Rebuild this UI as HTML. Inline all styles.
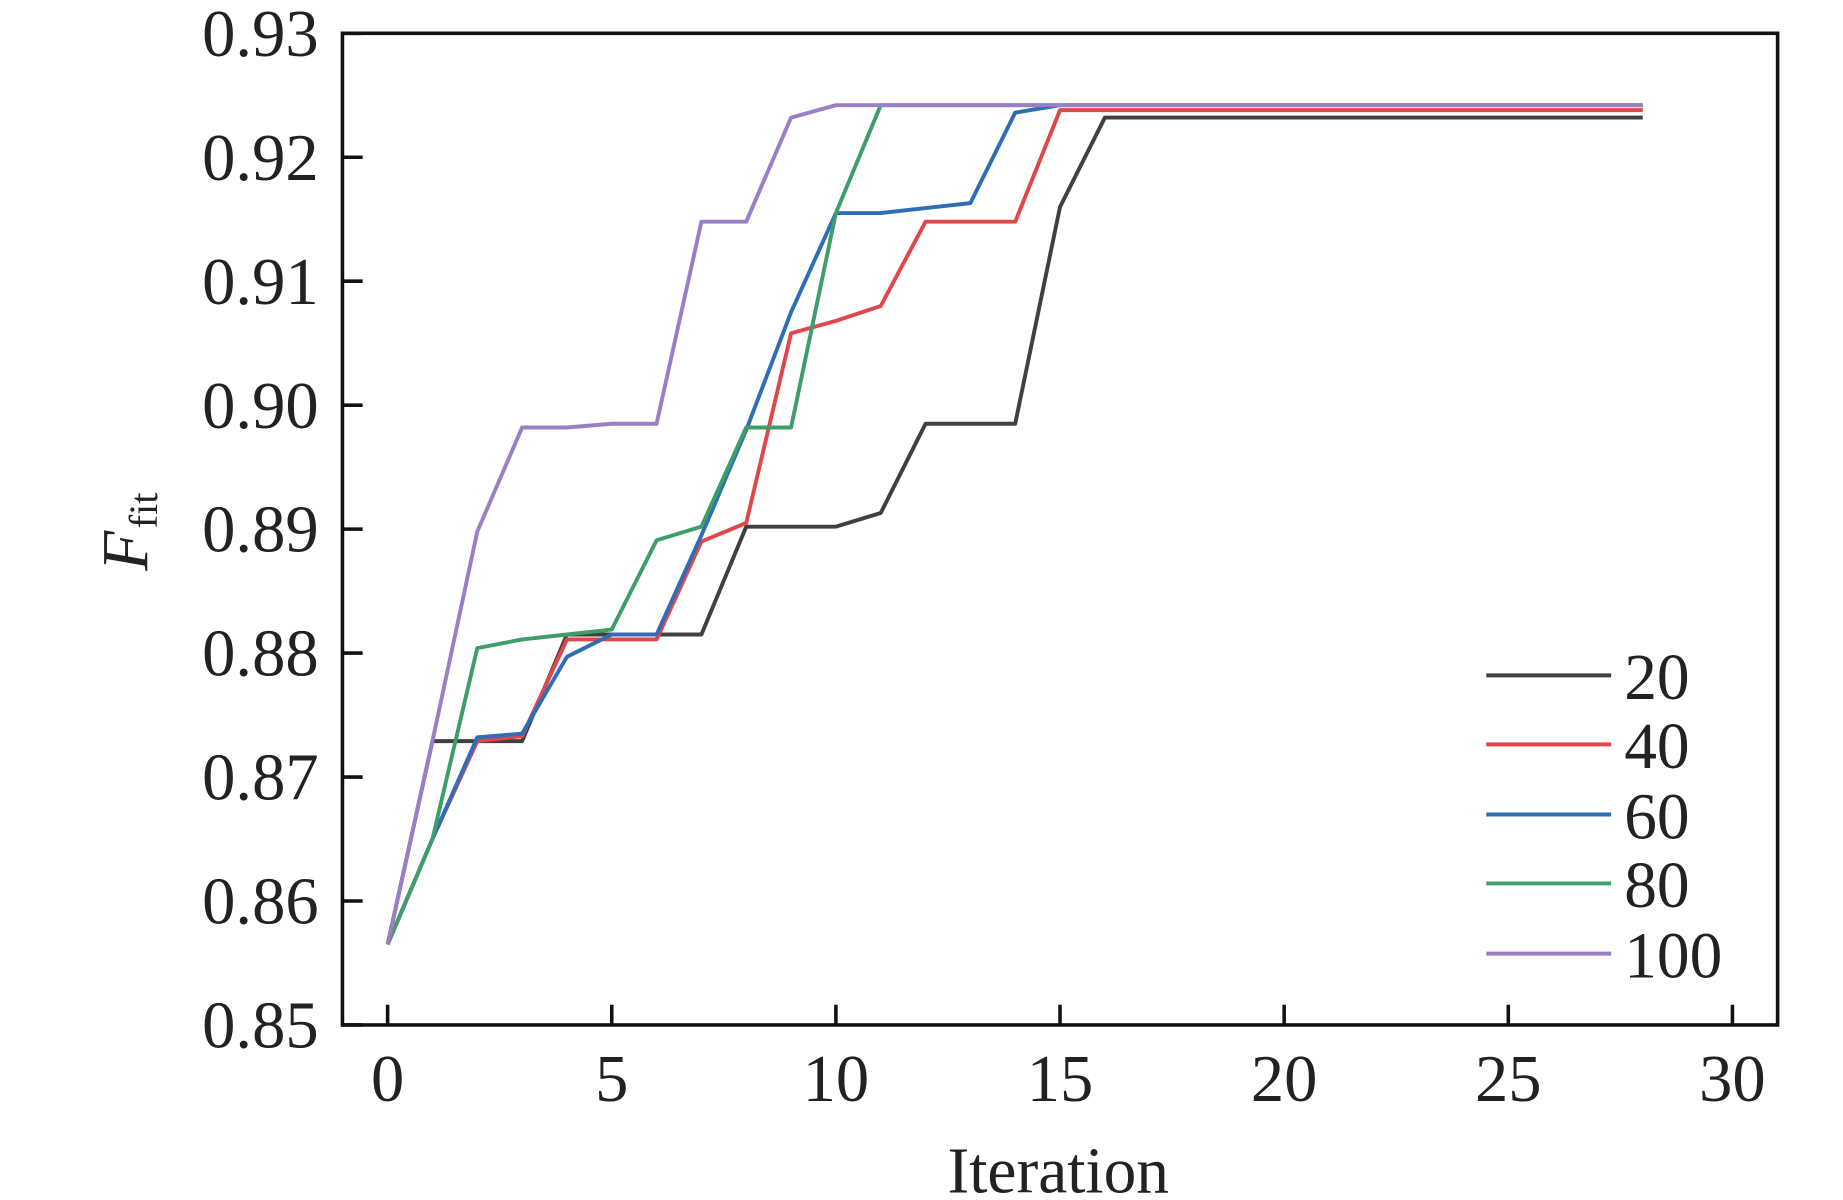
<!DOCTYPE html>
<html><head><meta charset="utf-8"><style>
html,body{margin:0;padding:0;background:#fff;}
svg{display:block;}
text{font-family:"Liberation Serif",serif;fill:#222;}
</style></head><body>
<svg id="s" width="1843" height="1200" viewBox="0 0 1550 1009.2" preserveAspectRatio="none" xmlns="http://www.w3.org/2000/svg">
<rect x="288" y="28" width="1207" height="834" fill="none" stroke="#111" stroke-width="3"/>
<g id="ticks"></g>
<g id="series" fill="none" stroke-width="3.3" stroke-linejoin="round"></g>
<text x="890" y="1003" font-size="55" text-anchor="middle">Iteration</text>
<text transform="translate(124,480) rotate(-90)" font-size="55"><tspan font-style="italic">F</tspan><tspan font-size="34" dy="8" dx="2">fit</tspan></text>
<g id="legend"></g>
</svg>
<script>
var X=function(i){return 326+i*37.7;}, Y=function(v){return 862-(v-0.85)*10425;};
var t='';
for(var k=0;k<=6;k++){var x=X(k*5);t+='<line x1="'+x+'" y1="862" x2="'+x+'" y2="845" stroke="#111" stroke-width="3"/><text x="'+x+'" y="926" font-size="56" text-anchor="middle">'+(k*5)+'</text>';}
for(var k=0;k<=8;k++){var v=0.85+k*0.01,y=Y(v);t+='<line x1="288" y1="'+y+'" x2="305" y2="'+y+'" stroke="#111" stroke-width="3"/><text x="268" y="'+(y+19)+'" font-size="56" text-anchor="end">'+v.toFixed(2)+'</text>';}
document.getElementById('ticks').innerHTML=t;
function ext(a,v){while(a.length<29)a.push(v);return a;}
var S=[
['#404040',ext([0.8565,0.8729,0.8729,0.8729,0.8815,0.8815,0.8815,0.8815,0.8902,0.8902,0.8902,0.8913,0.8985,0.8985,0.8985,0.916,0.9232],0.9232)],
['#e0474c',ext([0.8565,0.865,0.8729,0.8733,0.8811,0.8811,0.8811,0.889,0.8905,0.9058,0.9068,0.908,0.9148,0.9148,0.9148,0.9238],0.9238)],
['#2f6db5',ext([0.8565,0.865,0.8732,0.8735,0.8797,0.8815,0.8815,0.8895,0.898,0.9075,0.9155,0.9155,0.9159,0.9163,0.9236,0.9242],0.9242)],
['#3e9e6a',ext([0.8565,0.865,0.8804,0.8811,0.8815,0.8819,0.8891,0.8902,0.8982,0.8982,0.9155,0.9242],0.9242)],
['#9b7fc4',ext([0.8565,0.8729,0.8898,0.8982,0.8982,0.8985,0.8985,0.9148,0.9148,0.9232,0.9242],0.9242)]
];
var h='',l='',names=['20','40','60','80','100'],ly=[568,626,685,743,802];
S.forEach(function(s,j){h+='<polyline stroke="'+s[0]+'" points="'+s[1].map(function(v,i){return X(i)+','+Y(v);}).join(' ')+'"/>';
l+='<line x1="1250" x2="1355" y1="'+ly[j]+'" y2="'+ly[j]+'" stroke="'+s[0]+'" stroke-width="3.3"/><text x="1366" y="'+(ly[j]+20)+'" font-size="55">'+names[j]+'</text>';});
document.getElementById('series').innerHTML=h;
document.getElementById('legend').innerHTML=l;
</script>
</body></html>
